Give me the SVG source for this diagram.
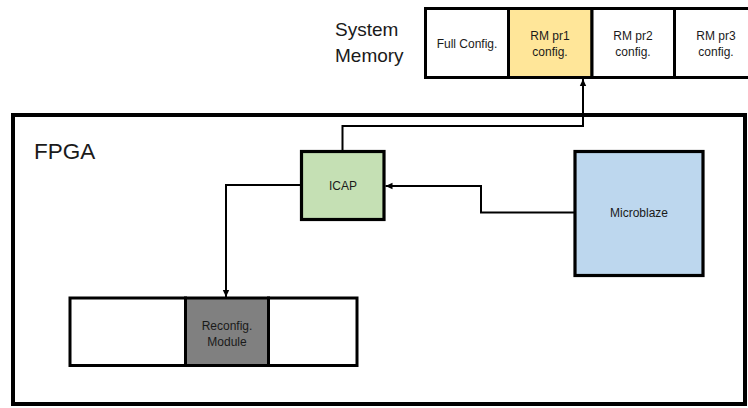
<svg xmlns="http://www.w3.org/2000/svg" width="748" height="408" viewBox="0 0 748 408">
<style>
.box{stroke:#000;stroke-width:3.2}
.cell{stroke:#000;stroke-width:3}
.lbl{font-family:"Liberation Sans",Arial,sans-serif;font-size:12px;fill:#1a1a1a;text-anchor:middle}
.big{font-family:"Liberation Sans",Arial,sans-serif;fill:#1a1a1a}
.conn{fill:none;stroke:#000;stroke-width:2}
</style>
<defs>
<marker id="arr" markerUnits="userSpaceOnUse" markerWidth="8" markerHeight="8" refX="7" refY="4" orient="auto">
<path d="M0,0.8 L7,4 L0,7.2 z" fill="#000"/>
</marker>
</defs>
<rect width="748" height="408" fill="#fff"/>
<g id="fpga">
<rect x="13" y="115" width="732" height="289" fill="#fff" stroke="#000" stroke-width="4"/>
<text class="big" x="34" y="159" font-size="22.5">FPGA</text>
</g>
<g id="system-memory">
<text class="big" x="335" y="36" font-size="19">System</text>
<text class="big" x="335" y="62" font-size="19">Memory</text>
<rect class="cell" x="425.5" y="8.5" width="83" height="69" fill="#fff"/>
<rect class="cell" x="508.5" y="8.5" width="83.5" height="69" fill="#FFE699"/>
<rect class="cell" x="592" y="8.5" width="82.5" height="69" fill="#fff"/>
<rect class="cell" x="674.5" y="8.5" width="83" height="69" fill="#fff"/>
<text class="lbl" x="467" y="48">Full Config.</text>
<text class="lbl" x="550" y="39.5">RM pr1</text>
<text class="lbl" x="550" y="56">config.</text>
<text class="lbl" x="633" y="39.5">RM pr2</text>
<text class="lbl" x="633" y="56">config.</text>
<text class="lbl" x="716" y="39.5">RM pr3</text>
<text class="lbl" x="716" y="56">config.</text>
</g>
<g id="connectors">
<path class="conn" d="M342.5,150 V126 H583 V79" marker-end="url(#arr)"/>
<path class="conn" d="M575,212.5 H481 V186 H385.5" marker-end="url(#arr)"/>
<path class="conn" d="M301.5,185 H226 V297" marker-end="url(#arr)"/>
</g>
<g id="icap">
<rect class="box" x="301.5" y="151.5" width="82.5" height="68" fill="#C5E0B4"/>
<text class="lbl" x="343" y="190">ICAP</text>
</g>
<g id="microblaze">
<rect class="box" x="575" y="151.5" width="128" height="124" fill="#BDD7EE"/>
<text class="lbl" x="639" y="217">Microblaze</text>
</g>
<g id="reconfig-region">
<rect class="cell" x="70" y="298" width="115.5" height="67.5" fill="#fff"/>
<rect class="cell" x="185.5" y="298" width="83" height="67.5" fill="#808080"/>
<rect class="cell" x="268.5" y="298" width="88.5" height="67.5" fill="#fff"/>
<text class="lbl" x="227" y="329.5">Reconfig.</text>
<text class="lbl" x="227" y="346">Module</text>
</g>
</svg>
